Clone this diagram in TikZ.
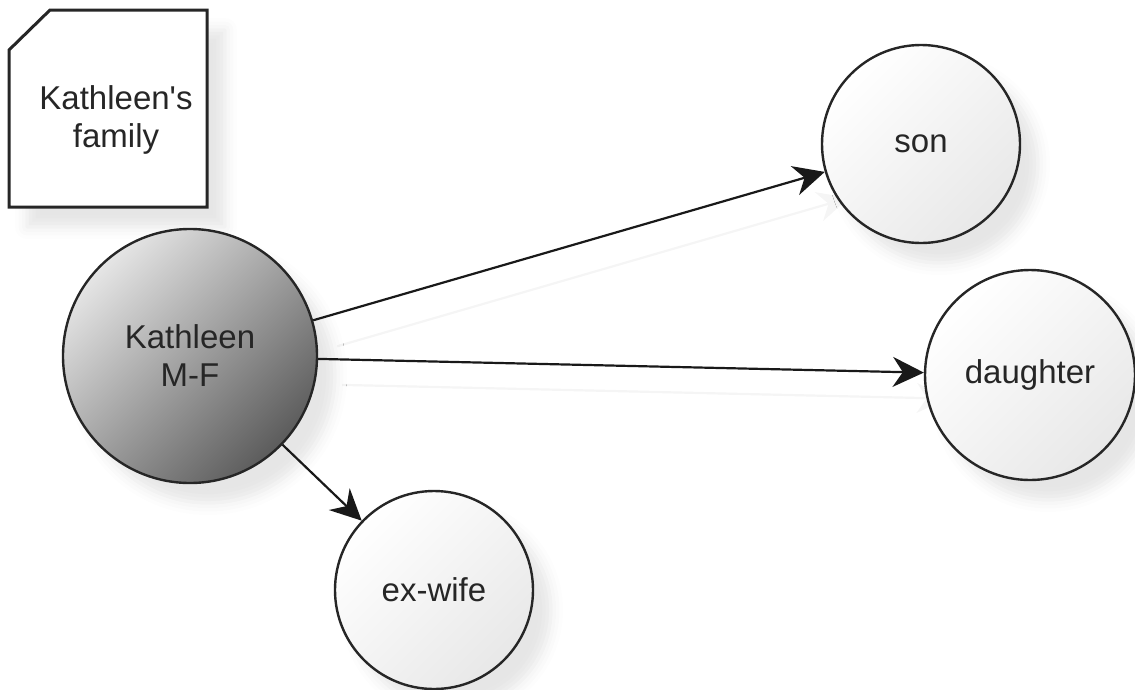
\documentclass[tikz,border=0pt]{standalone}
\usepackage{fontspec}
\newfontfamily\lbfont{Liberation Sans}
\usetikzlibrary{arrows.meta,shadows.blur,backgrounds}
\begin{document}
\begin{tikzpicture}[x=1pt,y=-1pt,
  lbl/.style={font=\lbfont\fontsize{33}{38}\selectfont, text=black!85, align=center},
  softshadow/.style={blur shadow={shadow xshift=18pt, shadow yshift=-20pt, shadow blur radius=12pt, shadow opacity=10}},
  person/.style={circle, draw=black!85, line width=2.4pt, inner sep=0pt, lbl,
    top color=white, bottom color=black!9, shading angle=45, softshadow},
  main/.style={person, top color=black!10, bottom color=black!64, shading angle=45},
  cardline/.style={draw=black!85, line width=3pt, fill=white, softshadow},
  tipstyle/.style={-{Stealth[length=31pt,width=30pt,inset=10pt]}},
  rel/.style={line width=2.2pt, draw=black!90, tipstyle},
  relshadow/.style={line width=2.2pt, draw=black!4, tipstyle},
]
\useasboundingbox (0,0) rectangle (1135,689);

% card (note shape)
\path[cardline] (9,50) -- (50,10) -- (207,10) -- (207,207) -- (9,207) -- cycle;
\node[lbl] (card) at (116,120) {Kathleen's\\family};

% circles
\node[main, minimum size=254pt] (K) at (190,356) {Kathleen\\M-F};
\node[person, minimum size=198pt] (son) at (921,144) {son};
\node[person, minimum size=210pt] (dau) at (1030,375) {daughter};
\node[person, minimum size=198pt] (ex) at (434,590) {ex-wife};

% connector shadows
\begin{scope}[on background layer]
  \draw[relshadow, transform canvas={shift={(24pt,-26pt)}}] (K) -- (son);
  \draw[relshadow, transform canvas={shift={(24pt,-26pt)}}] (K) -- (dau);
\end{scope}

% connectors
\draw[rel] (K) -- (son);
\draw[rel] (K) -- (dau);
\draw[rel] (K) -- (ex);
\end{tikzpicture}
\end{document}
